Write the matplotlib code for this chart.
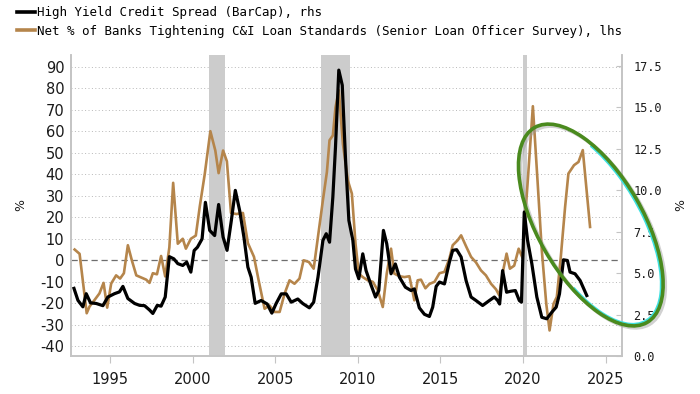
import matplotlib
matplotlib.use("Agg")
import matplotlib.pyplot as plt
from matplotlib.lines import Line2D
from matplotlib.patches import Ellipse, Arc

# High yield spread (rhs, %)
hy_dates = [1992.83, 1993.07, 1993.37, 1993.57, 1993.83, 1994.18, 1994.58, 1994.88,
            1995.28, 1995.58, 1995.79, 1996.09, 1996.5, 1996.8, 1997.1, 1997.4,
            1997.6, 1997.87, 1998.1, 1998.35, 1998.6, 1998.87, 1999.11, 1999.41,
            1999.65, 1999.9, 2000.1, 2000.3, 2000.58, 2000.78, 2001.04, 2001.34,
            2001.58, 2001.85, 2002.09, 2002.35, 2002.59, 2002.85, 2003.11, 2003.35,
            2003.55, 2003.79, 2004.15, 2004.52, 2004.8, 2005.06, 2005.37, 2005.67,
            2005.97, 2006.37, 2006.67, 2007.07, 2007.33, 2007.59, 2007.89, 2008.09,
            2008.29, 2008.49, 2008.65, 2008.85, 2009.06, 2009.26, 2009.46, 2009.7,
            2009.86, 2010.06, 2010.3, 2010.5, 2010.81, 2011.07, 2011.27, 2011.55,
            2011.75, 2012.01, 2012.27, 2012.52, 2012.88, 2013.22, 2013.42, 2013.72,
            2014.03, 2014.33, 2014.53, 2014.74, 2014.94, 2015.24, 2015.54, 2015.74,
            2015.98, 2016.25, 2016.55, 2016.85, 2017.15, 2017.55, 2017.96, 2018.26,
            2018.46, 2018.58, 2018.76, 2019.0, 2019.26, 2019.53, 2019.77, 2019.9,
            2020.07, 2020.27, 2020.53, 2020.83, 2021.13, 2021.43, 2021.74, 2022.0,
            2022.2, 2022.44, 2022.68, 2022.84, 2023.14, 2023.45, 2023.85]
hy_spread = [4.10, 3.38, 2.99, 3.78, 3.23, 3.19, 3.06, 3.58,
             3.78, 3.89, 4.22, 3.49, 3.19, 3.08, 3.06, 2.80,
             2.59, 3.08, 3.03, 3.58, 6.01, 5.88, 5.59, 5.48,
             5.68, 5.08, 6.38, 6.58, 7.08, 9.28, 7.59, 7.28,
             9.15, 7.19, 6.39, 8.19, 10.0, 8.80, 7.19, 5.38,
             4.77, 3.20, 3.37, 3.16, 2.61, 3.19, 3.77, 3.77,
             3.27, 3.46, 3.19, 2.93, 3.27, 4.77, 6.99, 7.39,
             6.88, 9.60, 12.61, 17.24, 16.33, 11.81, 8.19, 6.99,
             5.27, 4.68, 6.18, 5.17, 4.28, 3.58, 3.97, 7.59,
             6.79, 4.98, 5.57, 4.77, 4.17, 3.97, 4.07, 2.93,
             2.54, 2.41, 2.97, 4.22, 4.48, 4.37, 5.68, 6.39,
             6.43, 5.99, 4.57, 3.58, 3.37, 3.07, 3.37, 3.58,
             3.37, 3.16, 5.17, 3.87, 3.93, 3.97, 3.37, 3.27,
             8.70, 6.99, 5.57, 3.58, 2.36, 2.27, 2.67, 2.97,
             3.77, 5.82, 5.78, 5.08, 4.98, 4.57, 3.67]

# Net % of banks tightening C&I standards (lhs)
sloos_dates = [1992.87, 1993.17, 1993.6, 1993.77, 1994.07, 1994.37, 1994.62, 1994.84,
               1995.08, 1995.38, 1995.62, 1995.85, 1996.09, 1996.33, 1996.6, 1996.9,
               1997.2, 1997.4, 1997.6, 1997.85, 1998.1, 1998.35, 1998.6, 1998.83,
               1999.11, 1999.41, 1999.6, 1999.9, 2000.2, 2000.44, 2000.74, 2001.08,
               2001.38, 2001.58, 2001.85, 2002.08, 2002.33, 2002.65, 2003.05, 2003.35,
               2003.72, 2004.0, 2004.36, 2004.66, 2004.97, 2005.27, 2005.57, 2005.87,
               2006.17, 2006.47, 2006.72, 2007.04, 2007.33, 2007.59, 2007.89, 2008.13,
               2008.29, 2008.49, 2008.65, 2008.85, 2009.1, 2009.4, 2009.64, 2009.86,
               2010.06, 2010.3, 2010.6, 2010.91, 2011.21, 2011.51, 2011.75, 2012.01,
               2012.21, 2012.52, 2012.82, 2013.12, 2013.42, 2013.62, 2013.82, 2014.09,
               2014.33, 2014.64, 2014.94, 2015.24, 2015.54, 2015.74, 2016.04, 2016.25,
               2016.55, 2016.85, 2017.15, 2017.45, 2017.75, 2018.06, 2018.36, 2018.56,
               2018.76, 2019.0, 2019.2, 2019.46, 2019.73, 2019.97, 2020.13, 2020.27,
               2020.59, 2020.87, 2021.13, 2021.4, 2021.6, 2021.84, 2022.04, 2022.28,
               2022.54, 2022.74, 2023.08, 2023.35, 2023.61, 2024.05]
sloos_net = [5, 3, -24.6, -21.5, -18.5, -15.4, -10.5, -22,
             -10.8, -7, -8.5, -6, 7, 0, -7, -8,
             -9, -10.5, -6, -6.5, 2, -7.5, 6, 36,
             7.7, 10, 5.4, 10, 11.5, 25, 40, 60,
             51, 40.5, 51, 46, 22, 21.5, 22, 8,
             1.6, -9.3, -22.5, -21, -24, -24, -15.5, -9.3,
             -10.9, -8.5, 0, -0.8, -3.9, 10.9, 28, 41,
             55.8, 58, 71, 79, 54, 37, 31, 7.8,
             -6.2, -7.8, -9.3, -10, -14, -21.7, -6.2, 5.4,
             -6.2, -7.4, -7.8, -7.4, -18.6, -9.3, -9, -13,
             -11, -10, -6, -5.4, 0.8, 7, 9.3, 11.6,
             6.5, 1.6, -1, -4.7, -7, -10.9, -13.5, -16.3,
             -6, 3.1, -3.9, -2.5, 5.4, 1, 21, 35.7,
             71.6, 37.2, 4.7, -20.2, -32.6, -20.2, -17, 1.6,
             24.8, 40.3, 44.2, 45.7, 51.2, 15.5]

recession_start = [2001.0, 2007.75, 2020.0]
recession_end = [2001.95, 2009.5, 2020.25]

left_ticks = [-40, -30, -20, -10, 0, 10, 20, 30, 40, 50, 60, 70, 80, 90]
right_ticks = [0.0, 2.5, 5.0, 7.5, 10.0, 12.5, 15.0, 17.5]
year_ticks = [1995, 2000, 2005, 2010, 2015, 2020, 2025]

ORANGE = "#b5854b"
SPINE = "#c4c4c4"
TXT = "#1a1a1a"

plt.rcParams["axes.unicode_minus"] = False

fig = plt.figure(figsize=(7, 3.94), dpi=100)
ax = fig.add_axes([0.1019, 0.0952, 0.7871, 0.7652])
ax2 = ax.twinx()

for s, e in zip(recession_start, recession_end):
    ax.axvspan(s, e, color="#cccccc", lw=0, zorder=1)

for t in left_ticks:
    if t == 0:
        ax.axhline(t, color="#6e6e6e", lw=0.9, ls=(0, (5, 3)), zorder=0.5)
    else:
        ax.axhline(t, color="#b8b8b8", lw=0.7, ls=(0, (1, 2.5)), zorder=0.5)

ax.plot(sloos_dates, sloos_net, color=ORANGE, lw=1.9, zorder=3)
ax2.plot(hy_dates, hy_spread, color="black", lw=2.3, zorder=4)

ax.set_xlim(1992.67, 2026.0)
ax.set_ylim(-44.7, 95.4)
ax2.set_ylim(0.0, 18.15)

ax.set_yticks(left_ticks)
ax.set_yticklabels([str(t) for t in left_ticks], fontsize=10.5, color=TXT)
ax.tick_params(axis="y", length=0, pad=5)
ax.set_xticks(year_ticks)
ax.set_xticklabels([str(y) for y in year_ticks], fontsize=10.5, color=TXT)
ax.tick_params(axis="x", direction="out", length=5, color=SPINE, pad=6)

ax2.set_yticks(right_ticks)
ax2.set_yticklabels([f"{t:.1f}" for t in right_ticks], fontsize=8.6,
                    family="DejaVu Sans Mono", color=TXT)
ax2.tick_params(axis="y", direction="in", length=4, color=SPINE, pad=8)

for a in (ax, ax2):
    a.spines["top"].set_visible(False)
    for side in ("left", "bottom", "right"):
        a.spines[side].set_color(SPINE)
        a.spines[side].set_linewidth(1.2)

ax.set_zorder(ax2.get_zorder() - 1)
ax.patch.set_visible(True)
ax2.patch.set_visible(False)

fig.text(0.030, 0.48, "%", rotation=90, fontsize=9, color=TXT, ha="center", va="center")
fig.text(0.972, 0.48, "%", rotation=90, fontsize=9, color=TXT, ha="center", va="center")

handles = [Line2D([], [], color="black", lw=2.6),
           Line2D([], [], color=ORANGE, lw=2.6)]
labels = ["High Yield Credit Spread (BarCap), rhs",
          "Net % of Banks Tightening C&I Loan Standards (Senior Loan Officer Survey), lhs"]
fig.legend(handles, labels, loc="upper left", bbox_to_anchor=(0.024, 0.984),
           frameon=False, prop={"family": "DejaVu Sans Mono", "size": 9},
           handlelength=1.45, handletextpad=0.17, labelspacing=0.42,
           borderpad=0, borderaxespad=0)

# green highlight ellipse around the recent period (figure inches)
ell_kw = dict(transform=fig.dpi_scale_trans, clip_on=False)
shadow = Ellipse((5.93, 1.67), 2.25, 1.05, angle=-60, fill=False,
                 ec="#9a9a9a", lw=2.6, alpha=0.45, zorder=9, **ell_kw)
glow = Arc((5.905, 1.69), 2.21, 1.01, angle=-60, theta1=-45, theta2=150,
           ec="#3fe0e0", lw=1.6, zorder=9, **ell_kw)
ring = Ellipse((5.908, 1.69), 2.25, 1.05, angle=-60, fill=False,
               ec="#4a8a1e", lw=2.6, zorder=10, **ell_kw)
for p in (shadow, glow, ring):
    ax2.add_patch(p)

fig.savefig("out.png", dpi=100)
